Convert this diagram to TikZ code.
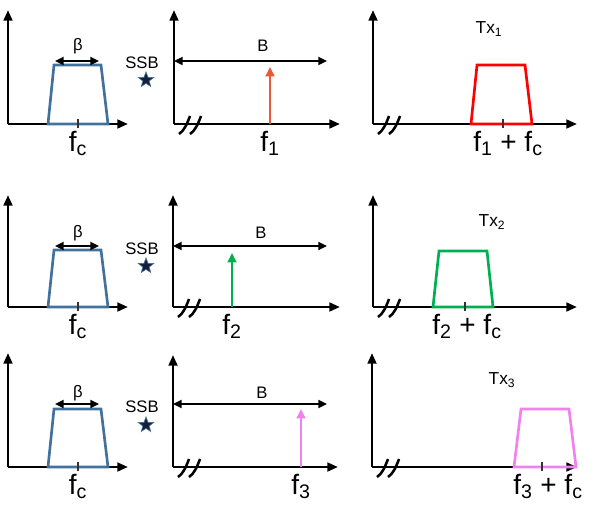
\documentclass[tikz,border=0pt]{standalone}
\usepackage{fontspec}
\setmainfont{Liberation Sans}
\usetikzlibrary{arrows.meta,shapes.geometric}

\definecolor{bandblue}{RGB}{65,113,156}
\definecolor{tonered}{RGB}{232,88,58}
\definecolor{txred}{RGB}{255,0,0}
\definecolor{txgreen}{RGB}{0,176,80}
\definecolor{txpink}{RGB}{240,130,240}
\definecolor{starnavy}{RGB}{22,30,58}

\tikzstyle{axis} = [line width=1.9pt, -{Triangle[length=8pt,width=6.5pt]}]
\tikzstyle{span} = [line width=1.4pt, {Triangle[length=6.5pt,width=6pt]}-{Triangle[length=6.5pt,width=6pt]}]
\tikzstyle{tone} = [line width=1.8pt, -{Triangle[length=7pt,width=6.5pt]}]
\tikzstyle{band} = [line width=2pt]
\tikzstyle{tick} = [line width=1pt, black!80]
\tikzstyle{brk} = [line width=1.9pt]
\tikzstyle{flbl} = [inner sep=0pt, anchor=north, font=\fontsize{21}{23}\selectfont]
\tikzstyle{wlbl} = [inner sep=0pt, font=\fontsize{12.5}{14}\selectfont]
\tikzstyle{txlbl} = [inner sep=0pt, font=\fontsize{13}{15}\selectfont]
\tikzstyle{ssb} = [star, star points=5, star point ratio=2.4, fill=starnavy, draw=bandblue, line width=0.5pt, minimum size=12pt, inner sep=0pt]

\begin{document}
\begin{tikzpicture}[x=0.75pt, y=-0.75pt]
\useasboundingbox (0,0) rectangle (598,524);

% row 1
\draw[axis] (8,124) -- (8,10);
\draw[axis] (8,124) -- (128,124);
\draw[band, bandblue] (48,124) -- (54,65) -- (101,65) -- (108,124) -- cycle;
\draw[tick] (78,119) -- (78,128);
\draw[span] (55,61) -- (99,61);
\node[wlbl] (beta1) at (78,46) {β};
\node[flbl] (fc1) at (78,131) {f\textsubscript{c}};
\node[wlbl] (ssb1) at (142,63) {SSB};
\node[ssb] (star1) at (146,80) {};

\draw[axis] (174,124) -- (174,10);
\draw[axis] (174,124) -- (340,124);
\draw[brk] (179,134) .. controls (184,131) and (187,124) .. (190,116);
\draw[brk] (190,134) .. controls (195,131) and (198,124) .. (201,116);
\draw[span] (174,61) -- (327,61);
\node[wlbl] (B1) at (263,46) {B};
\draw[tone, tonered] (270,124) -- (270,67);
\node[flbl] (f1) at (270,131) {f\textsubscript{1}};

\draw[axis] (373,124) -- (373,10);
\draw[axis] (373,124) -- (577,124);
\draw[brk] (378,134) .. controls (383,131) and (386,124) .. (389,116);
\draw[brk] (389,134) .. controls (394,131) and (397,124) .. (400,116);
\draw[band, txred] (471,124) -- (477,65) -- (525,65) -- (532,124) -- cycle;
\draw[tick] (503,119) -- (503,128);
\node[txlbl] (tx1) at (489,29) {Tx\textsubscript{1}};
\node[flbl] (f1fc) at (508,131) {f\textsubscript{1} + f\textsubscript{c}};

% row 2
\draw[axis] (8,307) -- (8,195);
\draw[axis] (8,307) -- (128,307);
\draw[band, bandblue] (48,307) -- (54,250) -- (101,250) -- (108,307) -- cycle;
\draw[tick] (78,302) -- (78,311);
\draw[span] (55,246) -- (99,246);
\node[wlbl] (beta2) at (78,233) {β};
\node[flbl] (fc2) at (78,314) {f\textsubscript{c}};
\node[wlbl] (ssb2) at (142,249) {SSB};
\node[ssb] (star2) at (146,266) {};

\draw[axis] (173,307) -- (173,195);
\draw[axis] (173,307) -- (340,307);
\draw[brk] (178,317) .. controls (183,314) and (186,307) .. (189,299);
\draw[brk] (189,317) .. controls (194,314) and (197,307) .. (200,299);
\draw[span] (173,246) -- (327,246);
\node[wlbl] (B2) at (261,233) {B};
\draw[tone, txgreen] (232,307) -- (232,253);
\node[flbl] (f2) at (232,314) {f\textsubscript{2}};

\draw[axis] (373,307) -- (373,195);
\draw[axis] (373,307) -- (577,307);
\draw[brk] (378,317) .. controls (383,314) and (386,307) .. (389,299);
\draw[brk] (389,317) .. controls (394,314) and (397,307) .. (400,299);
\draw[band, txgreen] (433,307) -- (439,251) -- (487,251) -- (493,307) -- cycle;
\draw[tick] (465,302) -- (465,311);
\node[txlbl] (tx2) at (492,222) {Tx\textsubscript{2}};
\node[flbl] (f2fc) at (467,314) {f\textsubscript{2} + f\textsubscript{c}};

% row 3
\draw[axis] (8,467) -- (8,353);
\draw[axis] (8,467) -- (128,467);
\draw[band, bandblue] (48,467) -- (54,409) -- (101,409) -- (108,467) -- cycle;
\draw[tick] (78,462) -- (78,471);
\draw[span] (55,404) -- (99,404);
\node[wlbl] (beta3) at (78,393) {β};
\node[flbl] (fc3) at (78,474) {f\textsubscript{c}};
\node[wlbl] (ssb3) at (142,407) {SSB};
\node[ssb] (star3) at (146,425) {};

\draw[axis] (173,467) -- (173,355);
\draw[axis] (173,467) -- (338,467);
\draw[brk] (178,477) .. controls (183,474) and (186,467) .. (189,459);
\draw[brk] (189,477) .. controls (194,474) and (197,467) .. (200,459);
\draw[span] (173,404) -- (327,404);
\node[wlbl] (B3) at (262,393) {B};
\draw[tone, txpink] (301,467) -- (301,409);
\node[flbl] (f3) at (301,474) {f\textsubscript{3}};

\draw[axis] (372,467) -- (372,353);
\draw[axis] (372,467) -- (577,467);
\draw[brk] (377,477) .. controls (382,474) and (385,467) .. (388,459);
\draw[brk] (388,477) .. controls (393,474) and (396,467) .. (399,459);
\draw[band, txpink] (514,467) -- (521,409) -- (569,409) -- (576,467) -- cycle;
\draw[tick] (542,462) -- (542,471);
\node[txlbl] (tx3) at (502,380) {Tx\textsubscript{3}};
\node[flbl] (f3fc) at (548,474) {f\textsubscript{3} + f\textsubscript{c}};
\end{tikzpicture}
\end{document}
